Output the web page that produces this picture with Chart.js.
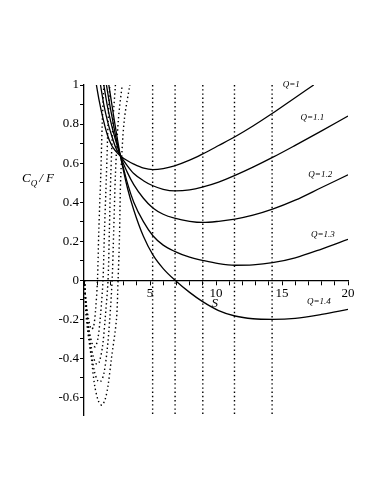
<!DOCTYPE html>
<html>
<head>
<meta charset="utf-8">
<script src="https://cdn.jsdelivr.net/npm/chart.js@4.4.1/dist/chart.umd.min.js"></script>
<style>
  body { margin: 0; background: #fff; }
  #wrap { width: 382px; height: 494px; }
</style>
</head>
<body>
<div id="wrap"><canvas id="cqChart" width="382" height="494"></canvas></div>
<script>
// solid curves, one per Q
const q1X = [0.94, 1.15, 1.42, 1.75, 2.1, 2.38, 2.76, 3.3, 3.77, 4.53, 5.22, 6.0, 6.86, 8.0, 8.96, 10.2, 11.44, 12.8, 14.28, 15.8, 17.4];
const q1Y = [1.0, 0.92, 0.834, 0.749, 0.69, 0.663, 0.637, 0.612, 0.595, 0.574, 0.567, 0.572, 0.586, 0.615, 0.646, 0.69, 0.735, 0.79, 0.855, 0.926, 1.0];

const q11X = [1.25, 1.5, 1.8, 2.1, 2.4, 2.76, 3.3, 3.77, 4.5, 5.22, 6.0, 6.9, 8.0, 8.96, 10.2, 11.44, 12.8, 14.28, 16.0, 18.0, 20];
const q11Y = [1.0, 0.9, 0.81, 0.74, 0.68, 0.637, 0.585, 0.547, 0.51, 0.484, 0.466, 0.458, 0.463, 0.477, 0.503, 0.537, 0.579, 0.629, 0.691, 0.765, 0.841];

const q12X = [1.5, 1.75, 2.0, 2.3, 2.76, 3.3, 3.77, 4.5, 5.22, 6.0, 6.86, 8.0, 9.0, 10.2, 11.44, 12.8, 14.28, 16.0, 18.0, 20];
const q12Y = [1.0, 0.9, 0.82, 0.74, 0.637, 0.55, 0.49, 0.42, 0.37, 0.338, 0.318, 0.302, 0.296, 0.302, 0.313, 0.333, 0.364, 0.41, 0.475, 0.54];

const q13X = [1.7, 1.95, 2.2, 2.45, 2.76, 3.3, 3.77, 4.5, 5.22, 6.0, 6.86, 8.0, 8.96, 10.2, 11.44, 12.8, 14.28, 16.0, 18.0, 20];
const q13Y = [1.0, 0.9, 0.81, 0.72, 0.637, 0.495, 0.4, 0.3, 0.228, 0.18, 0.148, 0.118, 0.102, 0.085, 0.077, 0.079, 0.09, 0.115, 0.16, 0.21];

const q14X = [1.88, 2.1, 2.3, 2.5, 2.76, 3.3, 3.77, 4.5, 5.22, 6.0, 6.9, 8.0, 8.96, 10.2, 11.44, 12.8, 14.28, 16.0, 18.0, 20];
const q14Y = [1.0, 0.905, 0.818, 0.735, 0.637, 0.47, 0.36, 0.225, 0.13, 0.06, 0.0, -0.062, -0.108, -0.155, -0.183, -0.197, -0.2, -0.195, -0.175, -0.149];

// dotted U shaped curves near the origin
const d1X = [0.03, 0.15, 0.35, 0.55, 0.72, 0.88, 1.02, 1.12, 1.27, 1.38, 1.5];
const d1Y = [0.0, -0.11, -0.2, -0.25, -0.24, -0.15, 0.0, 0.25, 0.54, 0.8, 1.0];
const d2X = [0.03, 0.18, 0.4, 0.65, 0.85, 1.05, 1.25, 1.44, 1.55, 1.7, 1.82, 1.95];
const d2Y = [0.0, -0.14, -0.26, -0.33, -0.34, -0.3, -0.18, 0.0, 0.25, 0.54, 0.8, 1.0];
const d3X = [0.03, 0.2, 0.45, 0.7, 0.95, 1.15, 1.4, 1.6, 1.82, 1.92, 2.03, 2.2, 2.38];
const d3Y = [0.0, -0.16, -0.3, -0.39, -0.43, -0.42, -0.34, -0.2, 0.0, 0.25, 0.54, 0.82, 1.0];
const d4X = [0.03, 0.2, 0.5, 0.8, 1.05, 1.25, 1.5, 1.75, 1.95, 2.13, 2.25, 2.38, 2.6, 2.89];
const d4Y = [0.0, -0.18, -0.35, -0.47, -0.515, -0.52, -0.48, -0.36, -0.2, 0.0, 0.25, 0.54, 0.82, 1.0];
const d5X = [0.02, 0.18, 0.56, 0.81, 1.1, 1.35, 1.6, 1.82, 2.08, 2.46, 2.58, 2.68, 2.79, 3.05, 3.47];
const d5Y = [0.0, -0.2, -0.4, -0.54, -0.62, -0.64, -0.61, -0.54, -0.4, -0.2, 0.0, 0.2, 0.54, 0.82, 1.0];

// vertical dotted lines at the minima
const minLinesX = [5.2, 6.9, 9.0, 11.4, 14.25];

const xMin = 0, xMax = 20;
const yMin = -0.69, yMax = 1;

// curve labels
const qLabels = ['Q=1', 'Q=1.1', 'Q=1.2', 'Q=1.3', 'Q=1.4'];
const qLabelX = [15.7, 17.3, 17.9, 18.1, 17.8];
const qLabelY = [1.0, 0.832, 0.542, 0.234, -0.111];

function pts(xs, ys) {
    return xs.map((x, i) => ({ x: x, y: ys[i] }));
}

const datasets = [];

[[q1X, q1Y], [q11X, q11Y], [q12X, q12Y], [q13X, q13Y], [q14X, q14Y]].forEach(c => {
    datasets.push({
        data: pts(c[0], c[1]),
        borderColor: '#000',
        borderWidth: 1.3,
        pointRadius: 0,
        cubicInterpolationMode: 'monotone'
    });
});

[[d1X, d1Y], [d2X, d2Y], [d3X, d3Y], [d4X, d4Y], [d5X, d5Y]].forEach(c => {
    datasets.push({
        data: pts(c[0], c[1]),
        borderColor: '#000',
        borderWidth: 1.4,
        borderDash: [1.4, 2.8],
        pointRadius: 0,
        tension: 0.3
    });
});

minLinesX.forEach(x => {
    datasets.push({
        data: [{ x: x, y: yMax }, { x: x, y: yMin }],
        borderColor: '#000',
        borderWidth: 1.4,
        borderDash: [1.4, 2.8],
        pointRadius: 0
    });
});

// text labels drawn at data positions
const textPlugin = {
    id: 'textLabels',
    afterDatasetsDraw(chart) {
        const ctx = chart.ctx;
        const xs = chart.scales.x, ys = chart.scales.y;
        ctx.save();
        ctx.fillStyle = '#000';
        ctx.textBaseline = 'middle';
        ctx.textAlign = 'center';
        ctx.font = 'italic 9px "Liberation Serif"';
        qLabels.forEach((t, i) => {
            ctx.fillText(t, xs.getPixelForValue(qLabelX[i]), ys.getPixelForValue(qLabelY[i]));
        });
        ctx.font = 'italic 13px "Liberation Serif"';
        ctx.fillText('S', xs.getPixelForValue(9.9), ys.getPixelForValue(-0.12));

        // y axis title C_Q / F
        const ty = ys.getPixelForValue(0.52);
        let tx = chart.chartArea.left - 62;
        ctx.textAlign = 'left';
        ctx.font = 'italic 13px "Liberation Serif"';
        ctx.fillText('C', tx, ty);
        tx += ctx.measureText('C').width;
        ctx.font = 'italic 9px "Liberation Serif"';
        ctx.fillText('Q', tx, ty + 5);
        tx += ctx.measureText('Q').width + 2;
        ctx.font = 'italic 13px "Liberation Serif"';
        ctx.fillText('/ F', tx, ty);
        ctx.restore();
    }
};

Chart.defaults.font.family = '"Liberation Serif"';
Chart.defaults.color = '#000';

new Chart(document.getElementById('cqChart'), {
    type: 'line',
    data: { datasets: datasets },
    options: {
        responsive: false,
        animation: false,
        devicePixelRatio: 1,
        layout: { padding: { left: 24, right: 34, top: 85, bottom: 79 } },
        plugins: {
            legend: { display: false },
            tooltip: { enabled: false }
        },
        scales: {
            x: {
                type: 'linear',
                position: { y: 0 },
                min: xMin,
                max: xMax,
                afterFit: s => { s.height = 0; },
                border: { display: true, color: '#000', width: 1.3 },
                grid: { drawOnChartArea: false, drawTicks: true, tickLength: 4, color: '#000' },
                ticks: {
                    stepSize: 1,
                    autoSkip: false,
                    maxRotation: 0,
                    padding: 2,
                    font: { size: 13 },
                    callback: v => (v % 5 === 0 && v !== 0) ? String(v) : ''
                }
            },
            y: {
                type: 'linear',
                position: 'left',
                min: yMin,
                max: yMax,
                afterFit: s => { s.width = 60; },
                border: { display: true, color: '#000', width: 1.3 },
                grid: { drawOnChartArea: false, drawTicks: true, tickLength: 4, color: '#000' },
                ticks: {
                    stepSize: 0.1,
                    autoSkip: false,
                    includeBounds: false,
                    padding: 1,
                    font: { size: 13 },
                    callback: v => {
                        const k = Math.round(v * 10);
                        return k % 2 === 0 ? String(k / 10) : '';
                    }
                }
            }
        }
    },
    plugins: [textPlugin]
});
</script>
</body>
</html>
